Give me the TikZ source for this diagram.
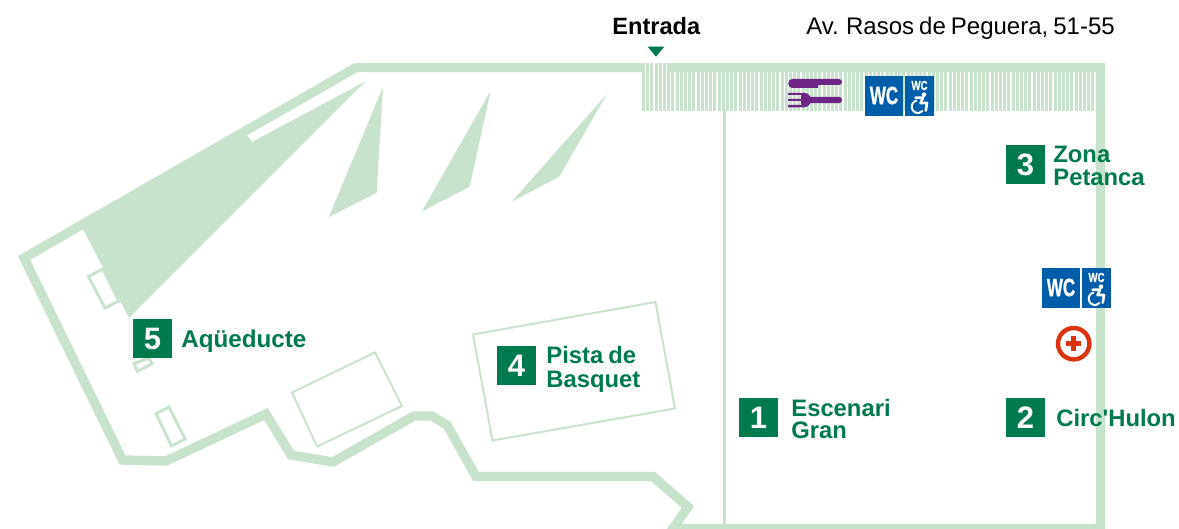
\documentclass[tikz,border=0pt]{standalone}
\usepackage{fontspec}
\setmainfont[Ligatures=TeXOff]{Liberation Sans}
\newfontfamily\wcfont[BoldFeatures={FakeBold=1.2}]{Liberation Sans}
\newcommand{\tightwords}{\spaceskip=.21em\relax}
\definecolor{wall}{HTML}{C8E3CB}
\definecolor{dgreen}{HTML}{007A4D}
\definecolor{wcblue}{HTML}{005DA9}
\definecolor{foodpurple}{HTML}{6E2585}
\definecolor{aidred}{HTML}{D9330F}
\tikzset{
  x=0.5pt,y=-0.5pt,
  wallline/.style={draw=wall,line width=4.7pt,miter limit=10},
  thinrect/.style={draw=wall,line width=1.5pt},
  courtrect/.style={draw=wall,line width=1pt},
  wallfill/.style={fill=wall},
  numbox/.style={fill=dgreen,text=white,minimum size=19.5pt,inner sep=0pt,font=\fontsize{15.5}{15.5}\selectfont\bfseries},
  placelabel/.style={anchor=base west,inner sep=0pt,text=dgreen,font=\fontsize{11.9}{11.5}\selectfont\bfseries},
  toplabel/.style={anchor=base west,inner sep=0pt,text=black},
  wcbig/.style={fill=wcblue,minimum width=19pt,minimum height=20pt,inner sep=0pt},
  wcsmall/.style={fill=wcblue,minimum width=14.5pt,minimum height=20pt,inner sep=0pt},
  wctextbig/.style={text=white,inner sep=0pt,transform shape,xscale=.68,font=\fontsize{12.5}{12.5}\selectfont\wcfont\bfseries},
  wctextsmall/.style={text=white,inner sep=0pt,transform shape,xscale=.74,font=\fontsize{6.5}{6.5}\selectfont\wcfont\bfseries},
  pics/accessible/.style={code={
    \fill[white] (19,18.7) circle[radius=2.3];
    \draw[white,line width=1pt] (11.9,24.5) arc[start angle=-100,end angle=-320,radius=6.3];
    \draw[white,line width=1.3pt,line join=round,line cap=round] (10.5,21.8) -- (18,21.6) -- (15.5,27) -- (22,27) -- (20.8,34.7);
  }}
}
\begin{document}
\begin{tikzpicture}
\useasboundingbox (0,0) rectangle (1179,529);
% hatch
\foreach \i in {0,...,108}{
  \fill[wall] ({round(642+\i*4.2)},72) rectangle ({round(642+\i*4.2)+3},110.7);
}
\foreach \i in {0,...,5}{
  \fill[wall] ({round(642+\i*4.2)},63) rectangle ({round(642+\i*4.2)+3},72);
}
% walls
\draw[wallline] (642,67.5) -- (356,67.5) -- (24,258) -- (122.5,460) -- (166,461) -- (266,414) -- (291,455) -- (333,462) -- (414,416) -- (432,416) -- (447,425) -- (476,476.5) -- (653,476.5) -- (688,507) -- (673,528.5) -- (1100.5,528.5) -- (1100.5,67.5) -- (667,67.5);
\draw[draw=wall,line width=1.5pt] (724.5,110) -- (724.5,526);
% small structures
\draw[thinrect] (88.5,276.5) -- (103,269) -- (119,301) -- (105,308) -- cycle;
\draw[thinrect] (134,363.5) -- (137.5,371.3) -- (152,363.8) -- (149,358) -- cycle;
\draw[thinrect] (156,413.5) -- (169,407) -- (185,439) -- (171.5,446) -- cycle;
\draw[courtrect] (292,392.5) -- (375,352.5) -- (402,406) -- (317,446.5) -- cycle;
\draw[courtrect] (473,334.5) -- (655.5,302) -- (675,408.5) -- (492.5,440.5) -- cycle;
% wedges
\fill[wallfill] (366,81) -- (252,142) -- (247,135) -- (83,229) -- (129,318) -- cycle;
\fill[wallfill] (383,87) -- (376.7,192.7) -- (328.7,217.3) -- cycle;
\fill[wallfill] (490.7,90.7) -- (469.7,186.7) -- (421.7,211.7) -- cycle;
\fill[wallfill] (606.7,94.3) -- (559.3,176.7) -- (511.7,201.7) -- cycle;
% entrance
\node[toplabel,font=\fontsize{11.8}{12}\selectfont\bfseries] (entrada) at (612,35) {Entrada};
\node[toplabel,font=\fontsize{12}{12}\selectfont] (address) at (806,35) {\tightwords Av. Rasos de Peguera, 51-55};
\fill[dgreen] (647.7,46.7) -- (664.3,46.7) -- (656,56.7) -- cycle;
% cutlery
\fill[foodpurple] (792,79) -- (839,79) .. controls (843,79) and (843,85) .. (839,85) -- (818,85) -- (818,88) -- (792,88) .. controls (787,88) and (787,79) .. (792,79) -- cycle;
\fill[foodpurple] (788,92.8) -- (804,92.8) .. controls (807,92.8) and (809,94) .. (810.5,96.8) -- (839,96.8) .. controls (843,96.8) and (843,103.2) .. (839,103.2) -- (810.5,103.2) .. controls (809,106) and (807,107.3) .. (804,107.3) -- (788,107.3) -- (788,105) -- (801,105) -- (801,101) -- (788,101) -- (788,98.8) -- (801,98.8) -- (801,95) -- (788,95) -- cycle;
% WC sets
\node[wcbig] (wca) at (884,96) {};
\node[wctextbig] (wcatext) at (884,95.5) {WC};
\node[wcsmall] (wcb) at (919.5,96) {};
\node[wctextsmall] (wcbtext) at (919.5,85.5) {WC};
\pic at (905,76) {accessible};
\node[wcbig] (wcc) at (1061,288) {};
\node[wctextbig] (wcctext) at (1061,287.5) {WC};
\node[wcsmall] (wcd) at (1096.5,288) {};
\node[wctextsmall] (wcdtext) at (1096.5,277.5) {WC};
\pic at (1082,268) {accessible};
% first aid
\draw[aidred,line width=2.2pt] (1073.7,343.7) circle[radius=15.7];
\fill[aidred] (1066.2,341) rectangle (1081.2,346.4);
\fill[aidred] (1071,336.2) rectangle (1076.4,351.2);
% numbered places
\node[numbox] (n1) at (758.5,417.5) {1};
\node[numbox] (n2) at (1025.5,417.5) {2};
\node[numbox] (n3) at (1025.5,164.5) {3};
\node[numbox] (n4) at (516.5,365.5) {4};
\node[numbox] (n5) at (152.5,338.5) {5};
\node[placelabel] (l1a) at (791,416) {Escenari};
\node[placelabel] (l1b) at (791,438) {Gran};
\node[placelabel] (l2) at (1056,426.7) {Circ'Hulon};
\node[placelabel] (l3a) at (1053,162.5) {Zona};
\node[placelabel] (l3b) at (1053,185.5) {Petanca};
\node[placelabel] (l4a) at (546,364) {\tightwords Pista de};
\node[placelabel] (l4b) at (546,387) {Basquet};
\node[placelabel,font=\fontsize{12.1}{11.5}\selectfont\bfseries] (l5) at (181,347.5) {Aqüeducte};
\end{tikzpicture}
\end{document}
